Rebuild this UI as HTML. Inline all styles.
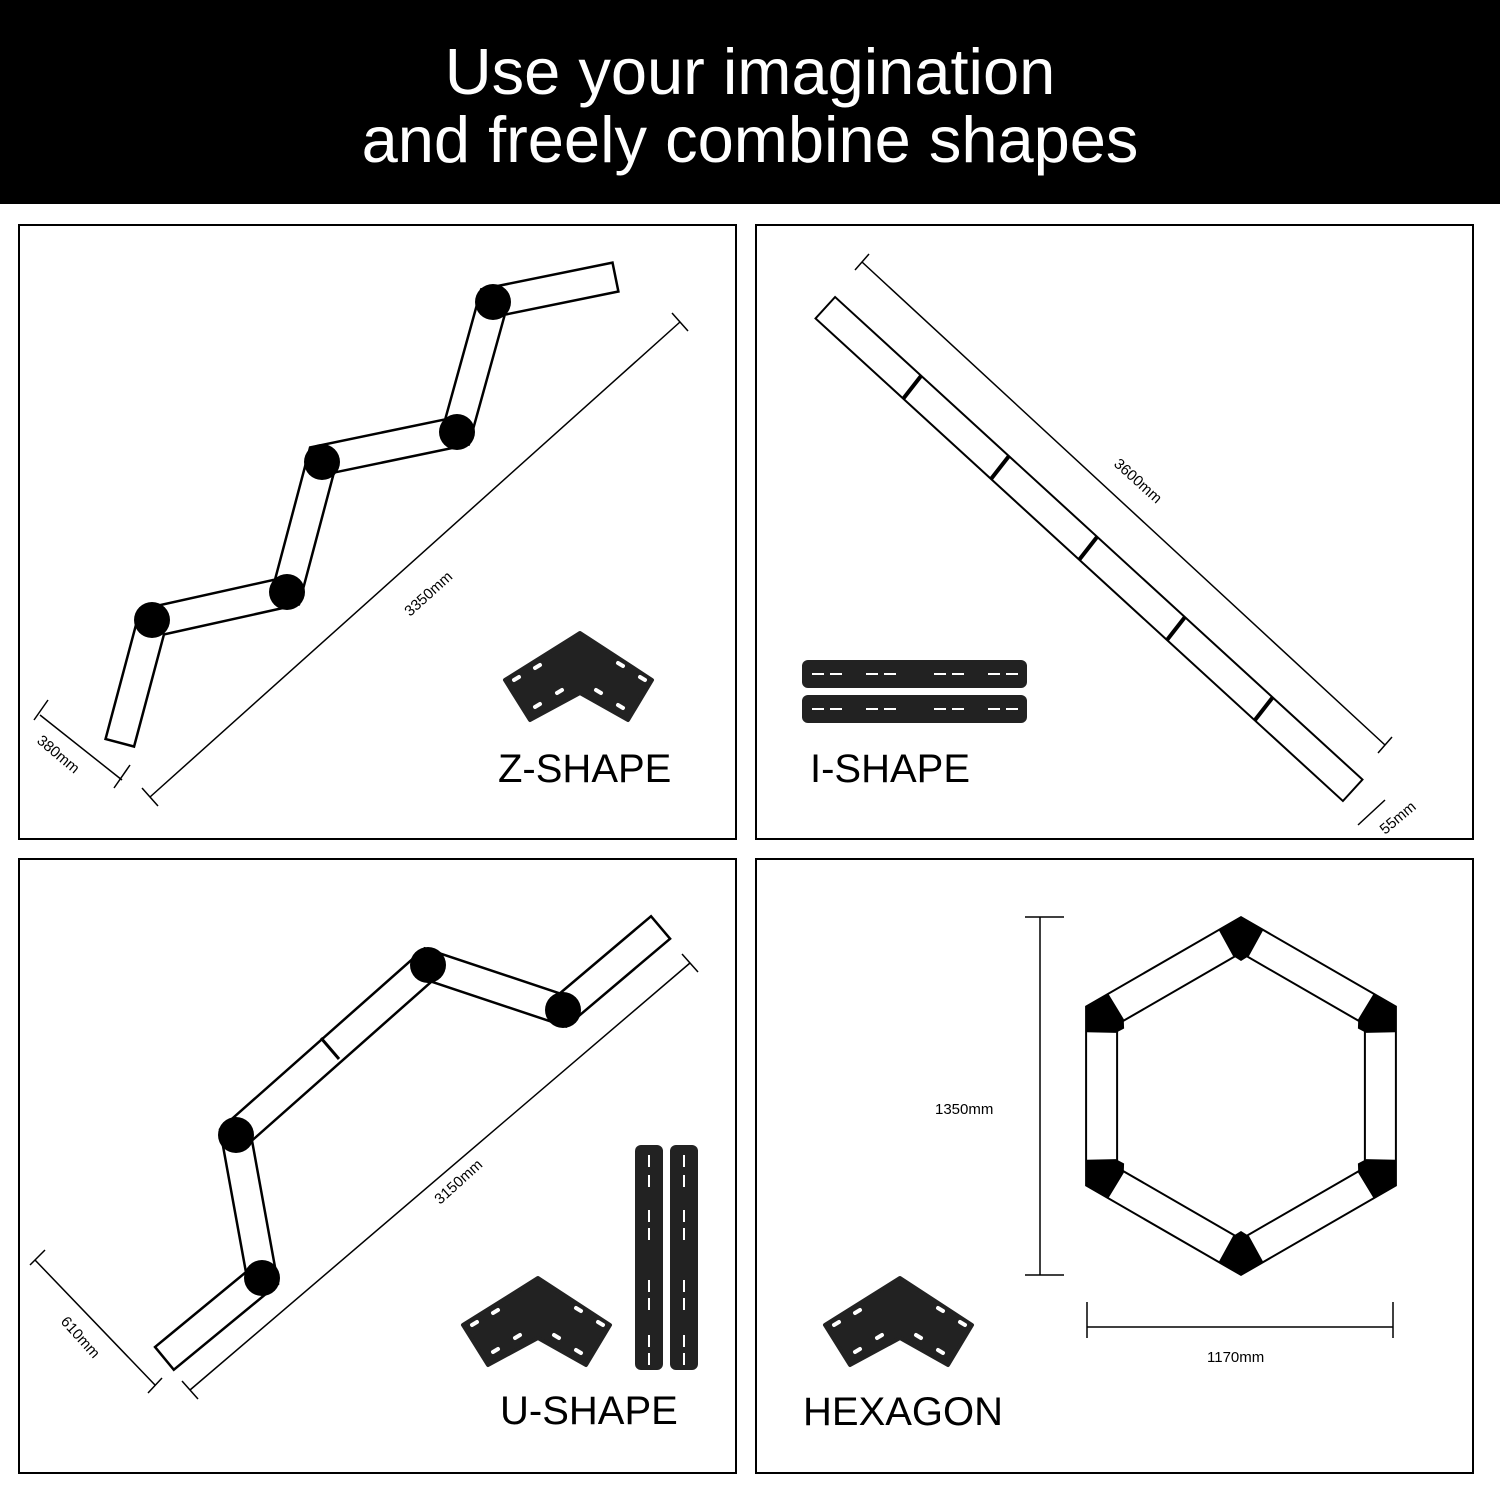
<!DOCTYPE html>
<html><head><meta charset="utf-8"><style>
html,body{margin:0;padding:0;background:#fff}
svg{display:block}
text{font-family:"Liberation Sans",sans-serif}
</style></head><body>
<svg width="1500" height="1500" viewBox="0 0 1500 1500" xmlns="http://www.w3.org/2000/svg">
<rect x="0" y="0" width="1500" height="204" fill="#000"/>
<text x="750" y="94" fill="#fff" font-size="65" text-anchor="middle">Use your imagination</text>
<text x="750" y="162" fill="#fff" font-size="65" text-anchor="middle">and freely combine shapes</text>

<g fill="none" stroke="#000" stroke-width="2">
<rect x="19" y="225" width="717" height="614"/>
<rect x="756" y="225" width="717" height="614"/>
<rect x="19" y="859" width="717" height="614"/>
<rect x="756" y="859" width="717" height="614"/>
</g>

<!-- Z shape -->
<g stroke-linejoin="miter" stroke-linecap="square" fill="none">
<polyline points="123.6,728.5 152,622 287,592 322,460 457,432 493,302 601,280" stroke="#000" stroke-width="32"/>
<polyline points="123.6,728.5 152,622 287,592 322,460 457,432 493,302 601,280" stroke="#fff" stroke-width="27"/>
</g>
<g fill="#000">
<circle cx="152" cy="620" r="18"/><circle cx="287" cy="592" r="18"/>
<circle cx="322" cy="462" r="18"/><circle cx="457" cy="432" r="18"/>
<circle cx="493" cy="302" r="18"/>
</g>
<g stroke="#000" stroke-width="1.5">
<line x1="150" y1="797" x2="680" y2="322"/>
<line x1="142" y1="788" x2="158" y2="806"/><line x1="672" y1="313" x2="688" y2="331"/>
<line x1="40" y1="715" x2="122" y2="780"/>
<line x1="48" y1="700" x2="34" y2="720"/><line x1="130" y1="765" x2="114" y2="788"/>
</g>
<text x="0" y="0" font-size="15" transform="translate(410,617) rotate(-42)">3350mm</text>
<text x="0" y="0" font-size="15" transform="translate(36,742) rotate(40)">380mm</text>
<g id="brk">
<path d="M505,680 L580,633 L652,680 L628,720 L580,693 L530,720 Z" fill="#222" stroke="#222" stroke-width="4" stroke-linejoin="round"/>
<g stroke="#fff" stroke-width="4" stroke-linecap="round">
<line x1="514" y1="680" x2="519" y2="677"/><line x1="535" y1="668" x2="540" y2="665"/>
<line x1="535" y1="707" x2="540" y2="704"/><line x1="557" y1="693" x2="562" y2="690"/>
<line x1="618" y1="663" x2="623" y2="666"/><line x1="640" y1="677" x2="645" y2="680"/>
<line x1="596" y1="690" x2="601" y2="693"/><line x1="618" y1="705" x2="623" y2="708"/>
</g>
</g>
<text x="498" y="782" font-size="40">Z-SHAPE</text>

<!-- I shape -->
<g fill="none" stroke-linecap="square">
<line x1="836" y1="317.5" x2="1342" y2="780.5" stroke="#000" stroke-width="31"/>
<line x1="836" y1="317.5" x2="1342" y2="780.5" stroke="#fff" stroke-width="27"/>
</g>
<g stroke="#000" stroke-width="4">
<line x1="921" y1="376" x2="903" y2="399"/><line x1="1009" y1="456" x2="991" y2="479"/>
<line x1="1097" y1="537" x2="1079" y2="560"/><line x1="1185" y1="617" x2="1167" y2="640"/>
<line x1="1273" y1="697" x2="1255" y2="720"/>
</g>
<g stroke="#000" stroke-width="1.5">
<line x1="862" y1="262" x2="1385" y2="745"/>
<line x1="855" y1="270" x2="869" y2="254"/><line x1="1378" y1="753" x2="1392" y2="737"/>
<line x1="1358" y1="825" x2="1385" y2="800"/>
</g>
<text x="0" y="0" font-size="15" transform="translate(1113,465) rotate(42)">3600mm</text>
<text x="0" y="0" font-size="15" transform="translate(1385,835) rotate(-40)">55mm</text>
<rect x="802" y="660" width="225" height="28" rx="6" fill="#222"/>
<rect x="802" y="695" width="225" height="28" rx="6" fill="#222"/>
<g stroke="#fff" stroke-width="2">
<path d="M812,674h12M830,674h12M866,674h12M884,674h12M934,674h12M952,674h12M988,674h12M1006,674h12"/>
<path d="M812,709h12M830,709h12M866,709h12M884,709h12M934,709h12M952,709h12M988,709h12M1006,709h12"/>
</g>
<text x="810" y="782" font-size="40">I-SHAPE</text>

<!-- U shape -->
<g fill="none" stroke-linejoin="miter" stroke-linecap="square">
<polyline points="175.8,1349 262,1278 236,1135 428,965 563,1010 649.3,937" stroke="#000" stroke-width="32"/>
<polyline points="175.8,1349 262,1278 236,1135 428,965 563,1010 649.3,937" stroke="#fff" stroke-width="27"/>
</g>
<g fill="#000">
<circle cx="262" cy="1278" r="18"/><circle cx="236" cy="1135" r="18"/>
<circle cx="428" cy="965" r="18"/><circle cx="563" cy="1010" r="18"/>
</g>
<line x1="321" y1="1038" x2="339" y2="1059" stroke="#000" stroke-width="3"/>
<g stroke="#000" stroke-width="1.5">
<line x1="190" y1="1390" x2="690" y2="963"/>
<line x1="182" y1="1381" x2="198" y2="1399"/><line x1="682" y1="954" x2="698" y2="972"/>
<line x1="35" y1="1260" x2="155" y2="1385"/>
<line x1="30" y1="1265" x2="45" y2="1250"/><line x1="148" y1="1393" x2="162" y2="1378"/>
</g>
<text x="0" y="0" font-size="15" transform="translate(440,1205) rotate(-42)">3150mm</text>
<text x="0" y="0" font-size="15" transform="translate(60,1322) rotate(48)">610mm</text>
<use href="#brk" transform="translate(-42,645)"/>
<rect x="635" y="1145" width="28" height="225" rx="6" fill="#222"/>
<rect x="670" y="1145" width="28" height="225" rx="6" fill="#222"/>
<g stroke="#fff" stroke-width="2">
<path d="M649,1155v12M649,1175v12M649,1210v12M649,1228v12M649,1280v12M649,1298v12M649,1335v12M649,1353v12"/>
<path d="M684,1155v12M684,1175v12M684,1210v12M684,1228v12M684,1280v12M684,1298v12M684,1335v12M684,1353v12"/>
</g>
<text x="500" y="1424" font-size="40">U-SHAPE</text>

<!-- Hexagon -->
<g fill="none" stroke-linejoin="miter">
<polygon points="1241,935 1380.4,1015.5 1380.4,1176.5 1241,1257 1101.6,1176.5 1101.6,1015.5" stroke="#000" stroke-width="33"/>
<polygon points="1241,935 1380.4,1015.5 1380.4,1176.5 1241,1257 1101.6,1176.5 1101.6,1015.5" stroke="#fff" stroke-width="29"/>
</g>
<g fill="#000">
<polygon id="hj" points="1219,930.5 1241,918 1263,930.5 1249,956 1241,961 1233,956"/>
<use href="#hj" transform="rotate(60 1241 1096)"/>
<use href="#hj" transform="rotate(120 1241 1096)"/>
<use href="#hj" transform="rotate(180 1241 1096)"/>
<use href="#hj" transform="rotate(240 1241 1096)"/>
<use href="#hj" transform="rotate(300 1241 1096)"/>
</g>
<g stroke="#000" stroke-width="1.5">
<line x1="1040" y1="917" x2="1040" y2="1275"/>
<line x1="1025" y1="917" x2="1064" y2="917"/><line x1="1025" y1="1275" x2="1064" y2="1275"/>
<line x1="1087" y1="1327" x2="1393" y2="1327"/>
<line x1="1087" y1="1302" x2="1087" y2="1338"/><line x1="1393" y1="1302" x2="1393" y2="1338"/>
</g>
<text x="935" y="1114" font-size="15">1350mm</text>
<text x="1207" y="1362" font-size="15">1170mm</text>
<use href="#brk" transform="translate(320,645)"/>
<text x="803" y="1425" font-size="40">HEXAGON</text>
</svg>
</body></html>
